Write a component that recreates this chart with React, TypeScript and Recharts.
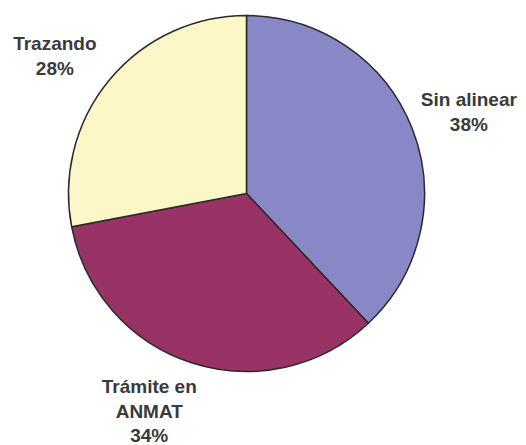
import React from "react";
import { PieChart, Pie, Cell } from "recharts";

const categories = ["Sin alinear", "Trámite en ANMAT", "Trazando"];
const labelLines = [["Sin alinear"], ["Trámite en", "ANMAT"], ["Trazando"]];
const values = [38, 34, 28];
const colors = ["#8888C6", "#993366", "#FBF7C6"];

const data = categories.map((name, i) => ({ name, value: values[i] }));

const RADIAN = Math.PI / 180;
const labelAdjust: Record<string, [number, number]> = {
  "Sin alinear": [2, 5],
  "Trámite en ANMAT": [-24, -8],
  "Trazando": [-9, 13],
};

const renderLabel = (props: any) => {
  const { cx, cy, midAngle, index, percent, name } = props;
  const r = 237;
  const adj = labelAdjust[name] || [0, 0];
  const x = cx + r * Math.cos(-midAngle * RADIAN) + adj[0];
  const y = cy + r * Math.sin(-midAngle * RADIAN) + adj[1];
  const lines = [...labelLines[index], `${Math.round(percent * 100)}%`];
  const lh = 24.5;
  const startY = y - ((lines.length - 1) * lh) / 2 + 7;
  return (
    <text
      x={x}
      y={startY}
      textAnchor="middle"
      fill="#3a3a3a"
      fontFamily="'Liberation Sans', Arial, sans-serif"
      fontWeight="bold"
      fontSize={19}
    >
      {lines.map((l, i) => (
        <tspan key={i} x={x} y={startY + i * lh}>
          {l}
        </tspan>
      ))}
    </text>
  );
};

export default function App() {
  return (
    <div style={{ position: "absolute", left: 0, top: 0, width: 526, height: 445, background: "#fff" }}>
      <PieChart width={526} height={445} margin={{ top: 0, right: 0, bottom: 0, left: 0 }}>
        <Pie
          data={data}
          dataKey="value"
          nameKey="name"
          cx={246.5}
          cy={193.5}
          outerRadius={178}
          startAngle={90}
          endAngle={-270}
          stroke="#2a2a2a"
          strokeWidth={1.5}
          label={renderLabel}
          labelLine={false}
          isAnimationActive={false}
        >
          {data.map((d, i) => (
            <Cell key={d.name} fill={colors[i]} />
          ))}
        </Pie>
      </PieChart>
    </div>
  );
}
